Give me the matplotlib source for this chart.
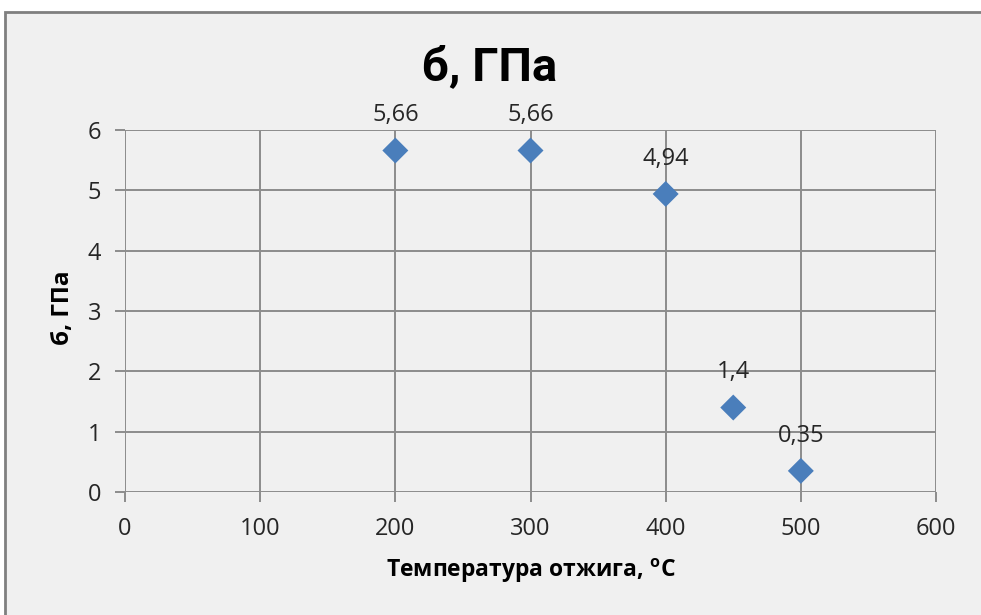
import matplotlib.pyplot as plt
from matplotlib.patches import Rectangle

# Annealing temperature vs stress
temps = [200, 300, 400, 450, 500]
stress = [5.66, 5.66, 4.94, 1.4, 0.35]
labels = ['5,66', '5,66', '4,94', '1,4', '0,35']
x_ticks = [0, 100, 200, 300, 400, 500, 600]
y_ticks = [0, 1, 2, 3, 4, 5, 6]

plt.rcParams['font.family'] = ['Open Sans', 'DejaVu Sans']

bg = '#f0f0f0'
grid_c = '#8c8c8c'
txt_c = '#262626'

fig = plt.figure(figsize=(9.81, 6.15), dpi=100, facecolor='white')
# chart frame like the Excel chart area
frame = Rectangle((5 / 981, -0.01), 1.0, 1 - 12 / 615 + 0.01,
                  transform=fig.transFigure, facecolor=bg,
                  edgecolor='#7f7f7f', linewidth=2, zorder=-10)
fig.patches.append(frame)

ax = fig.add_axes([125 / 981, 1 - 492 / 615, (936 - 125) / 981, (492 - 130) / 615])
ax.set_zorder(1)
ax.set_facecolor(bg)

ax.scatter(temps, stress, marker='D', s=175, color='#4a7ebb', edgecolors='none', zorder=3)
for x, y, t in zip(temps, stress, labels):
    ax.annotate(t, (x, y), xytext=(0, 21), textcoords='offset points',
                ha='center', va='baseline', fontsize=17, color=txt_c)

ax.set_xlim(0, 600)
ax.set_ylim(0, 6)
ax.set_xticks(x_ticks)
ax.set_yticks(y_ticks)
ax.grid(True, color=grid_c, linewidth=1.4)
ax.set_axisbelow(True)
for s in ax.spines.values():
    s.set_visible(False)
ax.tick_params(length=7, width=1.4, color=grid_c, labelsize=17, labelcolor=txt_c)
ax.tick_params(axis='x', pad=11)
ax.tick_params(axis='y', pad=10)

ax.set_xlabel('Температура отжига, $^{\\mathregular{o}}$C', fontsize=16.5, fontweight='bold')
ax.xaxis.set_label_coords(0.5, -0.178)
ax.set_ylabel('б, ГПа', fontsize=17.5, fontweight='bold')
ax.yaxis.set_label_coords(-0.062, 0.51)
fig.text(490 / 981, 1 - 80 / 615, 'б, ГПа', ha='center', va='baseline',
         fontsize=34, fontweight='bold', family=['Roboto', 'DejaVu Sans'])

fig.savefig('out.png', dpi=100, facecolor=fig.get_facecolor())
